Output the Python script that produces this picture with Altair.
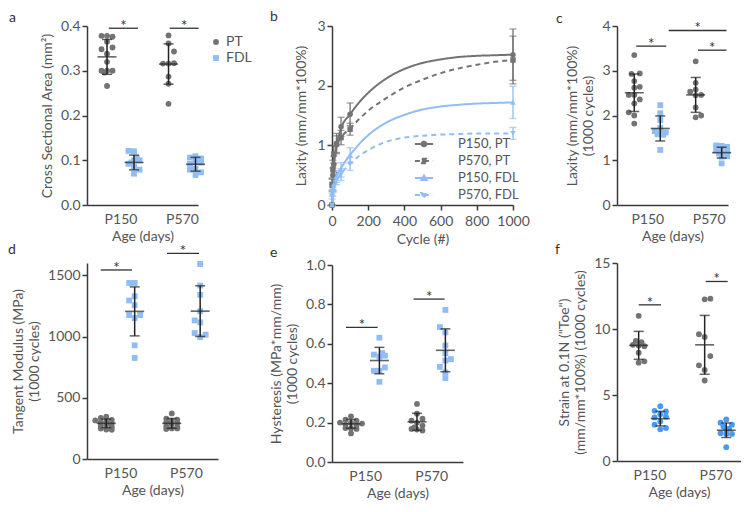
import altair as alt
import pandas as pd

FONT = "Lato"
GRAY = "#737373"
BLUE = "#90bdf3"
BLUE_F = "#4a9af3"
INK = "#222222"
TXT = "#555555"

AGES = ["P150", "P570"]
TISSUES = ["PT", "FDL"]

# ---------- a : cross sectional area ----------
A_PT_P150 = [0.378, 0.378, 0.376, 0.365, 0.352, 0.348, 0.338, 0.320, 0.300, 0.296, 0.300, 0.300, 0.266]
A_PT_P150_SLOT = [-1, 0, 1, 0, 1, -1, 0, 0, -1, -0.5, 0, 1, 0]
A_PT_P570 = [0.379, 0.361, 0.343, 0.316, 0.316, 0.317, 0.287, 0.271, 0.226]
A_PT_P570_SLOT = [0, 0, 1, -1, 0, 1, 0, 0, 0]
A_FDL_P150 = [0.121, 0.120, 0.105, 0.100, 0.100, 0.095, 0.092, 0.085, 0.079, 0.070]
A_FDL_P150_SLOT = [-1, 0, 0.5, 0, 1, -0.5, -1, 0, 1, 0]
A_FDL_P570 = [0.109, 0.106, 0.104, 0.097, 0.095, 0.092, 0.081, 0.079, 0.073, 0.067]
A_FDL_P570_SLOT = [0, -1, 1, 0, 1, -1, 0, -1, 1, 0]
A_MEAN = [0.331, 0.315, 0.095, 0.091]
A_SD = [0.039, 0.045, 0.0165, 0.0155]
A_SIG_X1 = [0.808, 1.80]
A_SIG_X2 = [1.284, 2.27]
A_SIG_Y = [0.395, 0.395]

# ---------- b : laxity over cycles ----------
SERIES = ["P150, PT", "P570, PT", "P150, FDL", "P570, FDL"]
B_CYC = [0, 1, 5, 10, 25, 50, 100, 1000]
B_P150_PT = [0, 0.35, 0.50, 0.68, 1.03, 1.31, 1.52, 2.52]
B_P150_PT_SD = [0, 0.10, 0.12, 0.14, 0.17, 0.16, 0.19, 0.43]
B_P570_PT = [0, 0.33, 0.60, 0.85, 1.02, 1.13, 1.27, 2.43]
B_P570_PT_SD = [0, 0.10, 0.15, 0.15, 0.14, 0.12, 0.10, 0.40]
B_P150_FDL = [0, 0.20, 0.30, 0.35, 0.48, 0.59, 0.83, 1.72]
B_P150_FDL_SD = [0, 0.05, 0.08, 0.10, 0.10, 0.12, 0.13, 0.27]
B_P570_FDL = [0, 0.15, 0.22, 0.30, 0.42, 0.51, 0.69, 1.20]
B_P570_FDL_SD = [0, 0.05, 0.07, 0.08, 0.08, 0.10, 0.11, 0.10]
B_FIT_CYC = [0, 10, 25, 50, 100, 150, 200, 300, 400, 500, 600, 700, 800, 900, 1000]
B_FIT_P150_PT = [0, 0.62, 0.98, 1.28, 1.52, 1.72, 1.88, 2.12, 2.28, 2.38, 2.44, 2.48, 2.50, 2.51, 2.52]
B_FIT_P570_PT = [0, 0.70, 0.98, 1.13, 1.28, 1.44, 1.58, 1.79, 1.97, 2.10, 2.21, 2.29, 2.35, 2.40, 2.43]
B_FIT_P150_FDL = [0, 0.35, 0.48, 0.62, 0.84, 1.02, 1.17, 1.38, 1.51, 1.60, 1.65, 1.68, 1.70, 1.71, 1.72]
B_FIT_P570_FDL = [0, 0.30, 0.40, 0.52, 0.69, 0.82, 0.92, 1.06, 1.13, 1.16, 1.18, 1.19, 1.20, 1.20, 1.20]

# ---------- c : laxity at 1000 cycles ----------
C_PT_P150 = [3.35, 2.93, 2.94, 2.77, 2.62, 2.64, 2.46, 2.46, 2.36, 2.27, 2.07, 2.00, 1.82]
C_PT_P150_SLOT = [0, -0.5, 1, 0, 0, 1, -1, 0, 1, 0, -1, 0, 0]
C_PT_P570 = [3.21, 2.73, 2.58, 2.53, 2.46, 2.45, 2.18, 2.00, 1.96]
C_PT_P570_SLOT = [0, 0, 0, -1, 1, 0, 0, 1, 0]
C_FDL_P150 = [2.23, 2.05, 1.90, 1.72, 1.65, 1.62, 1.58, 1.57, 1.59, 1.23]
C_FDL_P150_SLOT = [0, 0, 0, 0, -1, 1, -0.5, 0.5, 0, 0]
C_FDL_P570 = [1.33, 1.32, 1.30, 1.22, 1.21, 1.19, 1.15, 1.08, 1.09, 0.93]
C_FDL_P570_SLOT = [-1, 0, 1, -1, 0, 1, -0.5, 0, 1, 0]
C_MEAN = [2.51, 2.46, 1.71, 1.17]
C_SD = [0.42, 0.39, 0.28, 0.12]
C_SIG_X1 = [0.821, 1.349, 1.826]
C_SIG_X2 = [1.31, 2.29, 2.29]
C_SIG_Y = [3.55, 3.90, 3.46]

# ---------- d : tangent modulus ----------
D_PT_P150 = [345, 335, 320, 315, 305, 298, 290, 282, 270, 262, 248, 240, 238]
D_PT_P150_SLOT = [0, -1, 1, -2, 0, -1, 1, 0, -1, 1, -1, 0, 1]
D_PT_P570 = [372, 330, 322, 310, 300, 295, 285, 268, 262, 250, 245, 250]
D_PT_P570_SLOT = [0, -1, 1, 0, -1, 1, 0, -1, 1, 0, -1, 1]
D_FDL_P150 = [1437, 1437, 1329, 1294, 1256, 1175, 1175, 1150, 928, 825]
D_FDL_P150_SLOT = [-1, 0, 0, -1, 0, -1, 1, 0, 0, 0]
D_FDL_P570 = [1592, 1416, 1340, 1207, 1131, 1115, 1028, 1015, 995]
D_FDL_P570_SLOT = [0, 0, 0, 0, -1, 0, -1, 1, 0]
D_MEAN = [291, 291, 1205, 1207]
D_SD = [35, 40, 200, 207]
D_SIG_X1 = [0.698, 1.71]
D_SIG_X2 = [1.176, 2.199]
D_SIG_Y = [1543, 1679]

# ---------- e : hysteresis ----------
E_PT_P150 = [0.232, 0.215, 0.210, 0.200, 0.198, 0.195, 0.190, 0.185, 0.172, 0.170, 0.168, 0.145]
E_PT_P150_SLOT = [0, -1, 1, -2, 0, 2, -1, 1, -1, 0, 1, 0]
E_PT_P570 = [0.295, 0.245, 0.220, 0.210, 0.200, 0.185, 0.168, 0.165, 0.160, 0.175]
E_PT_P570_SLOT = [0, 0, 1, -1, 0, 1, -1, 0, 1, -0.5]
E_FDL_P150 = [0.631, 0.553, 0.545, 0.540, 0.535, 0.480, 0.463, 0.463, 0.407]
E_FDL_P150_SLOT = [0, 0.5, -1, 1, 0, 1, -1, 0, 0]
E_FDL_P570 = [0.772, 0.685, 0.658, 0.591, 0.552, 0.522, 0.515, 0.483, 0.455, 0.426]
E_FDL_P570_SLOT = [0, -1, 0, 0, 0, 1, 0, -1, 0, 0]
E_MEAN = [0.194, 0.204, 0.515, 0.567]
E_SD = [0.022, 0.043, 0.067, 0.109]
E_SIG_X1 = [0.709, 1.733]
E_SIG_X2 = [1.189, 2.203]
E_SIG_Y = [0.683, 0.827]

# ---------- f : strain at 0.1N ----------
F_PT_P150 = [11.0, 9.1, 9.0, 8.8, 8.75, 8.7, 8.2, 7.55, 7.45]
F_PT_P150_SLOT = [0, -0.5, 0.5, -1, 0, 1, 0, 1, 0]
F_PT_P570 = [12.25, 12.3, 9.6, 9.4, 7.95, 7.25, 6.9, 6.1]
F_PT_P570_SLOT = [0, 1, -1, 0, 1, -1, 0, 0]
F_FDL_P150 = [4.15, 3.8, 3.75, 3.55, 3.3, 3.35, 3.0, 2.75, 2.5, 2.4]
F_FDL_P150_SLOT = [0, -1, 1, 0, -1, 1, 0, -1, 1, 0]
F_FDL_P570 = [3.15, 2.9, 2.75, 2.6, 2.45, 2.35, 2.1, 2.05, 2.05, 1.05]
F_FDL_P570_SLOT = [0, -1, 1, -0.5, 0.5, 0, -1, 0, 1, 0]
F_MEAN = [8.76, 8.80, 3.21, 2.33]
F_SD = [1.06, 2.23, 0.55, 0.55]
F_SIG_X1 = [0.837, 1.852]
F_SIG_X2 = [1.175, 2.185]
F_SIG_Y = [11.83, 13.6]


def letter_layer(t, dx, dy):
    return alt.Chart(pd.DataFrame({"t": [t]})).mark_text(
        align="left", baseline="alphabetic", fontSize=14, color="#333333", font=FONT
    ).encode(text="t:N", x=alt.value(dx), y=alt.value(dy))


def scatter_panel(groups, means, sds, sig_x1, sig_x2, sig_y, *, xdom, off_px, slot_px,
                  ydom, yvals, yfmt, ytitle, letter, letter_dx, letter_dy, w, h,
                  fdl_shape="square", fdl_color=BLUE, legend=None):
    ppu = w / (xdom[1] - xdom[0])
    off = off_px / ppu
    slot = slot_px / ppu
    pts, st = [], []
    for (age, tissue, vals, slots), m, sd in zip(groups, means, sds):
        c = AGES.index(age) + 1 + (-off if tissue == "PT" else off)
        for v, s in zip(vals, slots):
            pts.append({"x": c + s * slot, "y": v, "tissue": tissue})
        st.append({"x": c, "y": m, "lo": m - sd, "hi": m + sd})
    pts = pd.DataFrame(pts)
    st = pd.DataFrame(st)
    sig = pd.DataFrame({"x1": sig_x1, "x2": sig_x2, "y": sig_y})
    sig["xm"] = (sig["x1"] + sig["x2"]) / 2

    xaxis = alt.Axis(values=[1, 2], labelExpr="datum.value == 1 ? 'P150' : 'P570'",
                     ticks=False, title="Age (days)", labelPadding=7, titlePadding=3,
                     labelFlush=False)
    yaxis = alt.Axis(values=yvals, format=yfmt, title=ytitle, titlePadding=6)
    xs = alt.Scale(domain=xdom, nice=False, zero=False)
    ys = alt.Scale(domain=ydom, nice=False, zero=False)

    def X(f):
        return alt.X(f"{f}:Q", scale=xs, axis=xaxis)

    def Y(f):
        return alt.Y(f"{f}:Q", scale=ys, axis=yaxis)

    points = alt.Chart(pts).mark_point(filled=True, size=34, opacity=1).encode(
        x=X("x"), y=Y("y"),
        color=alt.Color("tissue:N", scale=alt.Scale(domain=TISSUES, range=[GRAY, fdl_color]), legend=legend),
        shape=alt.Shape("tissue:N", scale=alt.Scale(domain=TISSUES, range=["circle", fdl_shape]), legend=legend),
    )
    bar = alt.Chart(st).mark_rule(color=INK, strokeWidth=1.5).encode(x=X("x"), y=Y("lo"), y2="hi:Q")
    mean = alt.Chart(st).mark_tick(orient="horizontal", size=19, thickness=1.6, color=INK).encode(x=X("x"), y=Y("y"))
    cap_lo = alt.Chart(st).mark_tick(orient="horizontal", size=10, thickness=1.5, color=INK).encode(x=X("x"), y=Y("lo"))
    cap_hi = alt.Chart(st).mark_tick(orient="horizontal", size=10, thickness=1.5, color=INK).encode(x=X("x"), y=Y("hi"))
    sig_rule = alt.Chart(sig).mark_rule(color="#333333", strokeWidth=1.3).encode(x=X("x1"), x2="x2:Q", y=Y("y"))
    sig_star = alt.Chart(sig).mark_text(text="*", fontSize=15, color="#333333", baseline="alphabetic", dy=3).encode(
        x=X("xm"), y=Y("y"))
    return alt.layer(points, bar, mean, cap_lo, cap_hi, sig_rule, sig_star,
                     letter_layer(letter, letter_dx, letter_dy)).properties(width=w, height=h)


LEG_A = alt.Legend(orient="none", legendX=122, legendY=9, title=None, padding=0,
                   symbolSize=34, labelFontSize=14, labelColor=TXT, labelFont=FONT,
                   rowPadding=2, labelOffset=3)

panel_a = scatter_panel(
    [("P150", "PT", A_PT_P150, A_PT_P150_SLOT), ("P570", "PT", A_PT_P570, A_PT_P570_SLOT),
     ("P150", "FDL", A_FDL_P150, A_FDL_P150_SLOT), ("P570", "FDL", A_FDL_P570, A_FDL_P570_SLOT)],
    A_MEAN, A_SD, A_SIG_X1, A_SIG_X2, A_SIG_Y,
    xdom=[0.455, 2.26], off_px=13.5, slot_px=5.5, ydom=[0, 0.4], yvals=[0, 0.1, 0.2, 0.3, 0.4],
    yfmt=".1f", ytitle="Cross Sectional Area (mm²)", letter="a", letter_dx=-78, letter_dy=-4,
    w=111, h=179, legend=LEG_A)

panel_c = scatter_panel(
    [("P150", "PT", C_PT_P150, C_PT_P150_SLOT), ("P570", "PT", C_PT_P570, C_PT_P570_SLOT),
     ("P150", "FDL", C_FDL_P150, C_FDL_P150_SLOT), ("P570", "FDL", C_FDL_P570, C_FDL_P570_SLOT)],
    C_MEAN, C_SD, C_SIG_X1, C_SIG_X2, C_SIG_Y,
    xdom=[0.507, 2.315], off_px=13, slot_px=5.5, ydom=[0, 4], yvals=[0, 1, 2, 3, 4],
    yfmt="d", ytitle=["Laxity (mm/mm*100%)", "(1000 cycles)"], letter="c", letter_dx=-61, letter_dy=-3,
    w=111, h=179)

panel_d = scatter_panel(
    [("P150", "PT", D_PT_P150, D_PT_P150_SLOT), ("P570", "PT", D_PT_P570, D_PT_P570_SLOT),
     ("P150", "FDL", D_FDL_P150, D_FDL_P150_SLOT), ("P570", "FDL", D_FDL_P570, D_FDL_P570_SLOT)],
    D_MEAN, D_SD, D_SIG_X1, D_SIG_X2, D_SIG_Y,
    xdom=[0.489, 2.489], off_px=14.2, slot_px=5.5, ydom=[0, 1600], yvals=[0, 500, 1000, 1500],
    yfmt="d", ytitle=["Tangent Modulus (MPa)", "(1000 cycles)"], letter="d", letter_dx=-79, letter_dy=-9,
    w=131, h=196)

panel_e = scatter_panel(
    [("P150", "PT", E_PT_P150, E_PT_P150_SLOT), ("P570", "PT", E_PT_P570, E_PT_P570_SLOT),
     ("P150", "FDL", E_FDL_P150, E_FDL_P150_SLOT), ("P570", "FDL", E_FDL_P570, E_FDL_P570_SLOT)],
    E_MEAN, E_SD, E_SIG_X1, E_SIG_X2, E_SIG_Y,
    xdom=[0.497, 2.482], off_px=14.2, slot_px=5.5, ydom=[0, 1.0], yvals=[0, 0.2, 0.4, 0.6, 0.8, 1.0],
    yfmt=".1f", ytitle=["Hysteresis (MPa*mm/mm)", "(1000 cycles)"], letter="e", letter_dx=-62, letter_dy=-8,
    w=131, h=197)

panel_f = scatter_panel(
    [("P150", "PT", F_PT_P150, F_PT_P150_SLOT), ("P570", "PT", F_PT_P570, F_PT_P570_SLOT),
     ("P150", "FDL", F_FDL_P150, F_FDL_P150_SLOT), ("P570", "FDL", F_FDL_P570, F_FDL_P570_SLOT)],
    F_MEAN, F_SD, F_SIG_X1, F_SIG_X2, F_SIG_Y,
    xdom=[0.508, 2.387], off_px=10.8, slot_px=5.7, ydom=[0, 15], yvals=[0, 5, 10, 15],
    yfmt="d", ytitle=["Strain at 0.1N (\"Toe\")", "(mm/mm*100%) (1000 cycles)"], letter="f",
    letter_dx=-62, letter_dy=-9, w=124, h=198, fdl_shape="circle", fdl_color=BLUE_F)

# ---------- panel b ----------
fit_rows, pt_rows = [], []
for name, vals in zip(SERIES, [B_FIT_P150_PT, B_FIT_P570_PT, B_FIT_P150_FDL, B_FIT_P570_FDL]):
    for c, v in zip(B_FIT_CYC, vals):
        fit_rows.append({"cycle": c, "lax": v, "series": name})
for name, vals, sds in zip(SERIES, [B_P150_PT, B_P570_PT, B_P150_FDL, B_P570_FDL],
                           [B_P150_PT_SD, B_P570_PT_SD, B_P150_FDL_SD, B_P570_FDL_SD]):
    for c, v, s in zip(B_CYC, vals, sds):
        pt_rows.append({"cycle": c, "lax": v, "lo": v - s, "hi": v + s, "series": name})
fit_df = pd.DataFrame(fit_rows)
pt_df = pd.DataFrame(pt_rows)

B_COLORS = [GRAY, GRAY, BLUE, BLUE]
B_SHAPES = ["circle", "square", "triangle-up", "triangle-down"]
LINE = "M-1.05,0L1.05,0"
B_LEGEND_PATHS = [
    LINE + "M0.27,0A0.27,0.27,0,1,1,-0.27,0A0.27,0.27,0,1,1,0.27,0Z",
    LINE + "M-0.25,-0.25L0.25,-0.25L0.25,0.25L-0.25,0.25Z",
    LINE + "M0,-0.3L0.3,0.22L-0.3,0.22Z",
    LINE + "M0,0.3L0.3,-0.22L-0.3,-0.22Z",
]
DASH_SCALE = alt.Scale(domain=SERIES, range=[[1, 0], [5, 4], [1, 0], [5, 4]])

LEG_B = alt.Legend(orient="none", legendX=82, legendY=108, title=None, padding=0,
                   symbolSize=300, symbolStrokeWidth=2, labelFontSize=13, labelColor=TXT,
                   labelFont=FONT, rowPadding=-1.5, labelOffset=24)

bxs = alt.Scale(domain=[0, 1000], nice=False)
bys = alt.Scale(domain=[0, 3], nice=False)
bxa = alt.Axis(values=[0, 200, 400, 600, 800, 1000], format="d", title="Cycle (#)", labelFlush=False,
               labelPadding=4, titlePadding=4)
bya = alt.Axis(values=[0, 1, 2, 3], title="Laxity (mm/mm*100%)", titlePadding=8)
bcol = alt.Color("series:N", scale=alt.Scale(domain=SERIES, range=B_COLORS), legend=None)


def BX(f):
    return alt.X(f"{f}:Q", scale=bxs, axis=bxa)


def BY(f):
    return alt.Y(f"{f}:Q", scale=bys, axis=bya)


b_legend = alt.Chart(pt_df).transform_filter("datum.lax < -1").mark_point(
    filled=True, size=300, strokeWidth=2, opacity=1).encode(
    x=BX("cycle"), y=BY("lax"),
    fill=alt.Fill("series:N", scale=alt.Scale(domain=SERIES, range=B_COLORS), legend=LEG_B),
    stroke=alt.Stroke("series:N", scale=alt.Scale(domain=SERIES, range=B_COLORS), legend=LEG_B),
    shape=alt.Shape("series:N", scale=alt.Scale(domain=SERIES, range=B_LEGEND_PATHS), legend=LEG_B),
    strokeDash=alt.StrokeDash("series:N", scale=DASH_SCALE, legend=LEG_B))
b_lines = alt.Chart(fit_df).mark_line(strokeWidth=2, interpolate="monotone").encode(
    x=BX("cycle"), y=BY("lax"), color=bcol,
    strokeDash=alt.StrokeDash("series:N", scale=DASH_SCALE, legend=LEG_B),
    detail="series:N")
b_err = alt.Chart(pt_df).mark_rule(strokeWidth=1.3).encode(x=BX("cycle"), y=BY("lo"), y2="hi:Q", color=bcol)
b_cap_lo = alt.Chart(pt_df).mark_tick(orient="horizontal", size=7, thickness=1.3).encode(
    x=BX("cycle"), y=BY("lo"), color=bcol)
b_cap_hi = alt.Chart(pt_df).mark_tick(orient="horizontal", size=7, thickness=1.3).encode(
    x=BX("cycle"), y=BY("hi"), color=bcol)
b_pts = [
    alt.Chart(pt_df).transform_filter(alt.datum.series == s).mark_point(
        filled=True, size=30, opacity=1, shape=shp).encode(x=BX("cycle"), y=BY("lax"), color=bcol)
    for s, shp in zip(SERIES, B_SHAPES)
]
panel_b = alt.layer(b_legend, b_lines, b_err, b_cap_lo, b_cap_hi, *b_pts,
                    letter_layer("b", -62, -5)).properties(width=181, height=179)

RES = dict(color="independent", shape="independent", strokeDash="independent",
           fill="independent", stroke="independent")
col1 = alt.vconcat(panel_a, panel_d, spacing=0).resolve_scale(**RES)
col2 = alt.vconcat(panel_b, panel_e, spacing=0).resolve_scale(**RES)
col3 = alt.vconcat(panel_c, panel_f, spacing=0).resolve_scale(**RES)
left = alt.hconcat(col1, col2, spacing=17).resolve_scale(**RES)

chart = alt.hconcat(left, col3, spacing=25).resolve_scale(**RES).properties(
    padding={"left": 0, "top": 2, "right": 0, "bottom": 0}
).configure_view(
    stroke=None
).configure_axis(
    labelFont=FONT, titleFont=FONT, labelFontSize=14, titleFontSize=14, labelColor=TXT, titleColor=TXT,
    titleFontWeight="normal", domainColor="#3a3a3a", domainWidth=1.5, tickColor="#3a3a3a", tickWidth=1.5,
    tickSize=5, grid=False
).configure_text(font=FONT)

chart.save("out.html", embed_options={"renderer": "svg", "actions": False})
